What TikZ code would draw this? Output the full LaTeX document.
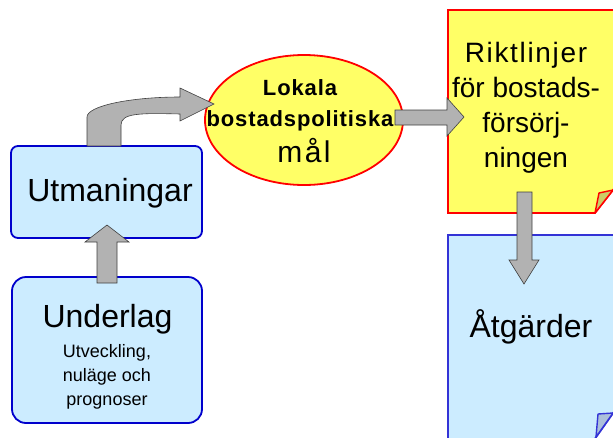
\documentclass[tikz,border=0pt]{standalone}
\usepackage{fontspec}
\setmainfont{Liberation Sans}
\usetikzlibrary{calc,shapes.geometric}
\definecolor{lblue}{RGB}{204,236,255}
\definecolor{dblue}{RGB}{0,0,204}
\definecolor{mblue}{RGB}{51,51,214}
\definecolor{yel}{RGB}{255,255,102}
\definecolor{agrey}{RGB}{178,178,178}
\definecolor{foldol}{RGB}{204,204,102}
\definecolor{foldbl}{RGB}{172,192,218}
\begin{document}
\begin{tikzpicture}[x=1pt,y=-1pt,
  bluebox/.style={draw=dblue, fill=lblue, line width=1.8pt, rounded corners=7pt, inner sep=0pt},
  barrow/.style={fill=agrey, draw=black!75, line width=0.6pt, line join=miter},
  big/.style={font=\fontsize{32}{38}\selectfont, inner sep=0pt},
  small/.style={font=\fontsize{18}{24}\selectfont, inner sep=0pt, align=center},
  goaltext/.style={font=\bfseries\fontsize{22}{26}\selectfont\addfontfeature{LetterSpace=4}, anchor=base, inner sep=0pt}]
\useasboundingbox (0,0) rectangle (613,437);
\clip (0,0) rectangle (613,437);

% left boxes
\node[bluebox, minimum width=191pt, minimum height=92pt] (utm) at (106.5,192) {};
\node[big, anchor=base] (utmt) at (110,201) {Utmaningar};
\node[bluebox, rounded corners=14pt, minimum width=190pt, minimum height=146pt] (und) at (107,350) {};
\node[big, anchor=base] (undt) at (107.5,327) {Underlag};
\node[small, anchor=north] (unds) at (107,344) {Utveckling,\\nuläge och\\prognoser};

% ellipse
\node[ellipse, draw=red, fill=yel, line width=1.8pt, minimum width=198pt, minimum height=130pt] (goal) at (304,120) {};
\node[goaltext] (g1) at (300,95) {Lokala};
\node[goaltext] (g2) at (300,126) {bostadspolitiska};
\node[font=\fontsize{30}{34}\selectfont\addfontfeature{LetterSpace=8}, anchor=base, inner sep=0pt] (g3) at (304,162) {mål};

% Riktlinjer sheet
\draw[draw=red, fill=yel, line width=1.8pt] (448,10) -- (640,10) -- (640,155.5) -- (595,213) -- (448,213) -- cycle;
\draw[draw=red, fill=foldol, line width=1.4pt, line join=round] (595,213) -- (599,193) -- (613,190) -- cycle;
\node[font=\fontsize{28}{35}\selectfont, align=center, inner sep=0pt] (rikt) at (526,108) {{\addfontfeature{LetterSpace=6}Riktlinjer}\\för bostads-\\försörj-\\ningen};

% Atgarder sheet
\draw[draw=mblue, fill=lblue, line width=1.8pt] (448,235) -- (640,235) -- (640,375) -- (587,450) -- (448,450) -- cycle;
\draw[draw=mblue, fill=foldbl, line width=1.4pt, line join=round] (596,437) -- (598,414) -- (613,413) -- cycle;
\node[big, anchor=base] (atgt) at (531,337) {Åtgärder};

% block arrows
\draw[barrow] (97,283) -- (97,242) -- (85,242) -- (107,225) -- (129,242) -- (117,242) -- (117,283) -- cycle;
\draw[barrow] (87,146) -- (87,117) .. controls (87,106) and (130,97) .. (180,97) -- (180,88) -- (214,104) -- (180,121) -- (180,114) .. controls (140,113) and (121,113) .. (121,125) -- (121,146) -- cycle;
\draw[barrow] (395,110) -- (447,110) -- (447,98) -- (464,117) -- (447,136) -- (447,125) -- (395,125) -- cycle;
\draw[barrow] (517,192) -- (517,260) -- (509,260) -- (524,284) -- (539,260) -- (532,260) -- (532,192) -- cycle;
\end{tikzpicture}
\end{document}
